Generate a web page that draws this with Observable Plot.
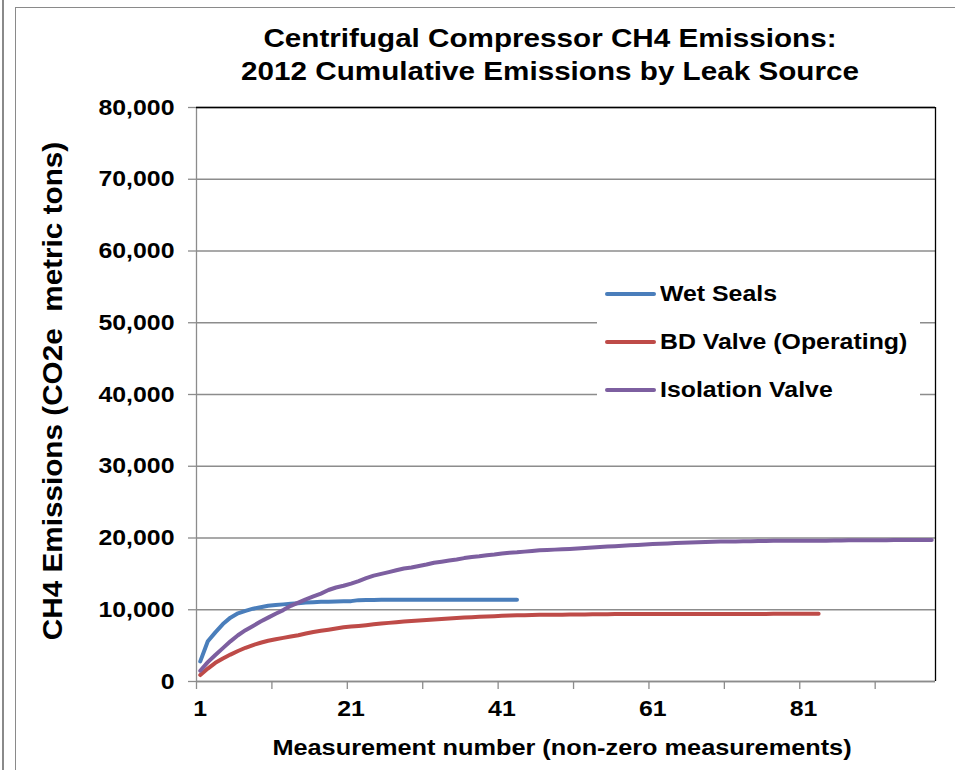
<!DOCTYPE html>
<html>
<head>
<meta charset="utf-8">
<script src="https://cdn.jsdelivr.net/npm/d3@7"></script>
<script src="https://cdn.jsdelivr.net/npm/@observablehq/plot@0.6"></script>
<style>
  html, body { margin: 0; padding: 0; background: #ffffff; }
  #wrap { position: relative; width: 955px; height: 770px; overflow: hidden; font-family: "Liberation Sans", Arial, sans-serif; font-weight: bold; color: #000; }
  #chart { position: absolute; left: 0; top: 0; }
  .frameA { position: absolute; left: 2px; top: 0; width: 1.5px; height: 770px; background: #8a8a8a; }
  .frameB { position: absolute; left: 15px; top: 7px; width: 960px; height: 800px; border-left: 1.5px solid #8a8a8a; border-top: 1.5px solid #8a8a8a; }
  .title { position: absolute; left: 550px; top: 21.5px; text-align: center; font-size: 26px; line-height: 33px; white-space: nowrap; transform: translateX(-50%) scaleX(1.14); }
  .ytitle { position: absolute; left: 52.5px; top: 391px; font-size: 27px; line-height: 27px; white-space: pre; transform: translate(-50%, -50%) rotate(-90deg) scaleX(1.1); }
  .xtitle { position: absolute; left: 562px; top: 736.5px; font-size: 22px; line-height: 22px; white-space: nowrap; transform: translateX(-50%) scaleX(1.15); }
  .legend { position: absolute; left: 597px; top: 272px; width: 323px; height: 138px; background: #ffffff; }
  .lrow { position: absolute; left: 8px; height: 24px; }
  .lsw { position: absolute; left: 0; width: 51px; height: 4px; border-radius: 2px; }
  .ltx { position: absolute; left: 55px; font-size: 22px; line-height: 22px; white-space: nowrap; transform: scaleX(1.13); transform-origin: left center; }
</style>
</head>
<body>
<div id="wrap">
  <div id="chart"></div>
  <div class="frameA"></div>
  <div class="frameB"></div>
  <div class="title" id="title"></div>
  <div class="ytitle" id="ytitle"></div>
  <div class="xtitle" id="xtitle"></div>
  <div class="legend" id="legend"></div>
</div>
<script>
// ---------- data ----------
const titleLines = ["Centrifugal Compressor CH4 Emissions:", "2012 Cumulative Emissions by Leak Source"];
const yAxisTitle = "CH4 Emissions (CO2e  metric tons)";
const xAxisTitle = "Measurement number (non-zero measurements)";
const seriesNames = ["Wet Seals", "BD Valve (Operating)", "Isolation Valve"];
const seriesColors = ["#4a7ebb", "#be4b48", "#7d5fa0"];

const wetSeals = [2800, 5600, 6850, 8000, 8900, 9500, 9850, 10150, 10350, 10550,
  10650, 10750, 10850, 10920, 11000, 11050, 11100, 11130, 11150, 11170,
  11200, 11340, 11360, 11370, 11380, 11380, 11380, 11380, 11380, 11380,
  11380, 11380, 11380, 11380, 11380, 11380, 11380, 11380, 11380, 11380,
  11380, 11380, 11380];

const bdValve = [900, 1800, 2600, 3200, 3750, 4250, 4700, 5080, 5400, 5680,
  5900, 6080, 6270, 6450, 6680, 6900, 7060, 7220, 7400, 7550,
  7650, 7750, 7850, 7970, 8070, 8170, 8270, 8350, 8430, 8500,
  8580, 8650, 8720, 8790, 8850, 8920, 8970, 9020, 9070, 9110,
  9150, 9190, 9220, 9250, 9280, 9300, 9310, 9320, 9320, 9330,
  9330, 9340, 9380, 9390, 9390, 9400, 9400, 9400, 9400, 9410,
  9410, 9410, 9410, 9410, 9410, 9420, 9420, 9420, 9420, 9420,
  9420, 9420, 9420, 9420, 9420, 9420, 9430, 9430, 9430, 9430,
  9430, 9430, 9430];

const isolationValve = [1500, 2700, 3700, 4650, 5600, 6450, 7150, 7750, 8350, 8900,
  9450, 9950, 10550, 11000, 11450, 11850, 12250, 12750, 13100, 13350,
  13650, 14000, 14400, 14750, 15000, 15250, 15500, 15750, 15900, 16100,
  16300, 16550, 16700, 16850, 17000, 17200, 17350, 17450, 17600, 17700,
  17850, 17950, 18000, 18100, 18200, 18300, 18330, 18380, 18420, 18480,
  18540, 18600, 18680, 18750, 18800, 18860, 18920, 18980, 19040, 19100,
  19150, 19200, 19250, 19290, 19330, 19380, 19420, 19450, 19480, 19500,
  19510, 19520, 19530, 19540, 19580, 19590, 19600, 19600, 19610, 19610,
  19620, 19620, 19630, 19630, 19640, 19640, 19680, 19690, 19690, 19700,
  19700, 19700, 19710, 19710, 19720, 19720, 19730, 19730];

const categoryCount = 98;
const yTicks = [0, 10000, 20000, 30000, 40000, 50000, 60000, 70000, 80000];
const xTickLabels = [1, 21, 41, 61, 81];
const xTickMarks = [0.5, 10.5, 20.5, 30.5, 40.5, 50.5, 60.5, 70.5, 80.5, 90.5];

// ---------- build ----------
const allSeries = [wetSeals, bdValve, isolationValve];
const rows = [];
allSeries.forEach((vals, s) => vals.forEach((v, i) => rows.push({series: seriesNames[s], n: i + 1, value: v})));

const xMin = 0.5, xMax = categoryCount + 0.5;
const yMin = yTicks[0], yMax = yTicks[yTicks.length - 1];
const axisGrey = "#8c8c8c";

const chart = Plot.plot({
  width: 955,
  height: 770,
  marginLeft: 196,
  marginRight: 20,
  marginTop: 107,
  marginBottom: 89,
  style: {fontFamily: "'Liberation Sans', Arial, sans-serif", fontWeight: "bold", fontSize: "22px", color: "#000", background: "transparent", overflow: "visible"},
  x: {domain: [xMin, xMax]},
  y: {domain: [yMin, yMax]},
  color: {domain: seriesNames, range: seriesColors},
  marks: [
    Plot.gridY(yTicks, {stroke: axisGrey, strokeOpacity: 1, strokeWidth: 1.3}),
    Plot.ruleX([xMin], {stroke: axisGrey, strokeWidth: 1.3}),
    Plot.ruleY([yMin], {stroke: axisGrey, strokeWidth: 1.3}),
    Plot.ruleY([yMax], {stroke: "#000", strokeWidth: 1.3}),
    Plot.ruleX([xMax], {stroke: "#000", strokeWidth: 1.3}),
    Plot.axisY(yTicks, {tickSize: 8, tickPadding: 14, tickFormat: d3.format(","), stroke: axisGrey, strokeWidth: 1.3, strokeOpacity: 1, label: null, fontSize: 22, fontWeight: "bold"}),
    Plot.axisX(xTickMarks, {tickSize: 8, tickFormat: () => "", stroke: axisGrey, strokeWidth: 1.3, strokeOpacity: 1, label: null}),
    Plot.axisX(xTickLabels, {tickSize: 0, tickPadding: 19, tickFormat: d => String(d), label: null, fontSize: 22, fontWeight: "bold"}),
    Plot.line(rows, {x: "n", y: "value", z: "series", stroke: "series", strokeWidth: 4, strokeLinecap: "round", strokeLinejoin: "round"})
  ]
});
// widen tick-label glyphs horizontally (the reference font renders wider)
chart.querySelectorAll("text").forEach(t => {
  const xs = t.getAttribute("x");
  const x = xs != null && !isNaN(+xs) ? +xs : 0;
  if (xs != null && !isNaN(+xs)) t.removeAttribute("x");
  const tr = t.getAttribute("transform") || "";
  t.setAttribute("transform", `${tr} translate(${x},0) scale(1.13,1)`);
});
document.getElementById("chart").appendChild(chart);

// ---------- text overlays ----------
document.getElementById("title").innerHTML = titleLines.map(t => `<div>${t}</div>`).join("");
document.getElementById("ytitle").textContent = yAxisTitle;
document.getElementById("xtitle").textContent = xAxisTitle;
const legend = document.getElementById("legend");
seriesNames.forEach((name, i) => {
  const row = document.createElement("div");
  row.className = "lrow";
  row.style.top = (20 + i * 48 - 10) + "px";
  row.innerHTML = `<div class="lsw" style="top:10px;background:${seriesColors[i]}"></div><div class="ltx" style="top:1.4px">${name}</div>`;
  legend.appendChild(row);
});
</script>
</body>
</html>
